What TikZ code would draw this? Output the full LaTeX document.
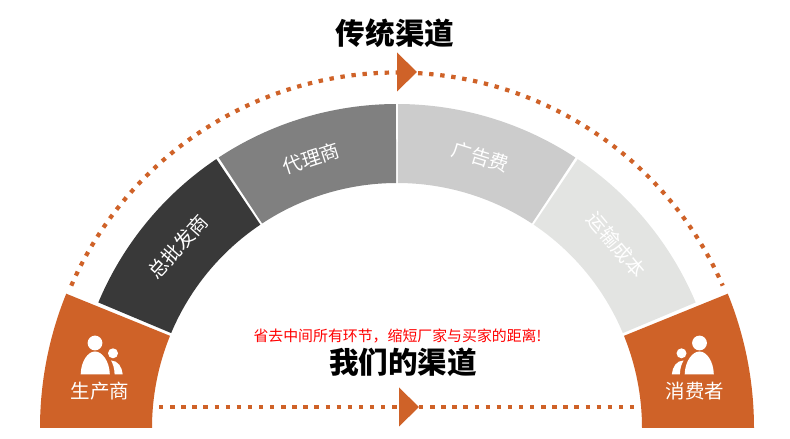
\documentclass[tikz,border=0pt]{standalone}
\usepackage{xcolor}
\usepackage{fontspec}
\usepackage{tikz}
\usetikzlibrary{calc}
\newfontfamily\cjk{Noto Sans CJK SC}
\definecolor{chanorange}{HTML}{CF6228}
\tikzset{
  person/.pic={
    \fill (95,0) circle (7.4);
    \fill (80.7,-31.3) .. controls (81,-18) and (88,-8.5) .. (95,-8.5) .. controls (102,-8.5) and (109.5,-18) .. (109.8,-31.3) -- cycle;
    \fill (113,-10.3) circle (5);
    \fill (111,-17.5) .. controls (118,-17.5) and (122,-24) .. (122.7,-31.3) -- (114.6,-31.3) .. controls (114.4,-25) and (113,-21) .. (111,-17.5) -- cycle;
  },
  dotline/.style={
    draw=chanorange,
    line width=4.2pt,
    dash pattern=on 4.4pt off 6.7pt,
  },
  head/.style={
    fill=chanorange,
  },
  title/.style={
    inner sep=0pt,
    font=\cjk\bfseries\fontsize{29.6}{30}\selectfont,
    text=black,
  },
  seglabel/.style={
    inner sep=0pt,
    font=\cjk\fontsize{19.5}{20}\selectfont,
    text=white,
  },
  every picture/.style = {
    x=1pt,
    y=1pt
  }
}
\begin{document}
\begin{tikzpicture}
    \useasboundingbox (0,0) rectangle (790,439);
    \coordinate (hub) at (397,11);
    % ends
    \fill[chanorange] (hub) ++(180:357) arc (180:157.9:357) -- ($(hub)+(157.9:245)$) arc (157.9:180:245) -- cycle;
    \fill[chanorange] (hub) ++(0:357) arc (0:22.1:357) -- ($(hub)+(22.1:245)$) arc (22.1:0:245) -- cycle;
    % middle
    \foreach \from/\to/\col in {157.2/123.9/393939, 123.4/90.2/808080, 89.8/56.6/CCCCCC, 56.1/22.8/E3E4E2}{
        \definecolor{segcol}{HTML}{\col}
        \fill[segcol] (hub) ++(\from:324) arc (\from:\to:324) -- ($(hub)+(\to:245)$) arc (\to:\from:245) -- cycle;
    }
    \node[seglabel, rotate=48] (zongpi) at (178,192) {总批发商};
    \node[seglabel, rotate=18] (daili) at (311,281) {代理商};
    \node[seglabel, rotate=-17] (guanggao) at (480.5,282) {广告费};
    \node[seglabel, rotate=-50] (yunshu) at (616.5,194) {运输成本};
    % dotted lines
    \coordinate (tiptop) at (417,367);
    \coordinate (tipbot) at (419,32);
    \coordinate (botl) at (159,32);
    \coordinate (botr) at (636,32);
    \draw[dotline] (hub) ++(156.4:355.5) arc (156.4:90:355.5);
    \draw[dotline] (hub) ++(86.6:355.5) arc (86.6:23.6:355.5);
    \draw[dotline] (botl) -- (399,32);
    \draw[dotline] (tipbot) -- (botr);
    \fill[head] (tiptop) -- ++(-20,19.5) -- ++(0,-39) -- cycle;
    \fill[head] (tipbot) -- ++(-20,19.5) -- ++(0,-39) -- cycle;
    % people
    \pic[white] at (0,96) {person};
    \pic[white, xscale=-1] at (794.5,96) {person};
    \node[seglabel] (maker) at (100,48) {生产商};
    \node[seglabel] (buyer) at (695,48) {消费者};
    % titles
    \node[title] (oldway) at (395,405.5) {传统渠道};
    \node[title] (ourway) at (403,76.5) {我们的渠道};
    \node[inner sep=0pt, text=red, font=\cjk\fontsize{14.9}{15}\selectfont] (slogan) at (397.5,103) {省去中间所有环节\symbol{"FF0C}缩短厂家与买家的距离!};
\end{tikzpicture}
\end{document}
